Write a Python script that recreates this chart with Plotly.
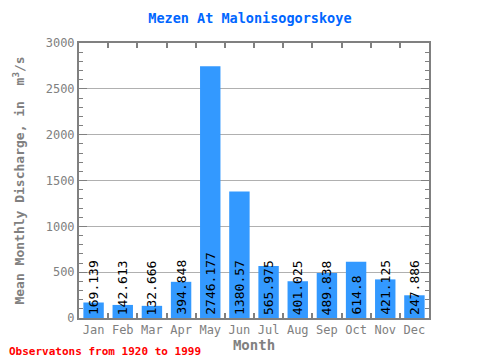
import plotly.graph_objects as go

months = ["Jan", "Feb", "Mar", "Apr", "May", "Jun", "Jul", "Aug", "Sep", "Oct", "Nov", "Dec"]
discharge = [169.139, 142.613, 132.666, 394.848, 2746.177, 1380.57, 565.975, 401.025, 489.838, 614.8, 421.125, 247.886]
labels = ["169.139", "142.613", "132.666", "394.848", "2746.177", "1380.57", "565.975", "401.025", "489.838", "614.8", "421.125", "247.886"]

font = "DejaVu Sans Mono, Liberation Mono, monospace"
gray = "#808080"

fig = go.Figure()
fig.add_trace(go.Bar(x=months, y=discharge, marker=dict(color="#3399ff", line=dict(width=0)), width=0.7))

for m, v, t in zip(months, discharge, labels):
    fig.add_annotation(x=m, y=0, text=t, textangle=-90, showarrow=False,
                       xanchor="center", yanchor="bottom", yshift=1,
                       font=dict(family=font, size=13, color="black"))

fig.add_annotation(xref="paper", yref="paper", x=-0.206, y=-0.12, xanchor="left", yanchor="middle",
                   text="<b>Observatons from 1920 to 1999</b>", showarrow=False,
                   font=dict(family=font, size=11, color="red"))

fig.update_layout(
    width=480, height=360,
    margin=dict(l=71, r=59, t=35, b=50, autoexpand=False),
    paper_bgcolor="white", plot_bgcolor="white",
    title=dict(text="<b>Mezen At Malonisogorskoye</b>", x=0.504, xref="container", xanchor="center",
               y=0.972, yanchor="middle",
               font=dict(family=font, size=13.5, color="#0066ff")),
    showlegend=False,
)
fig.update_xaxes(
    automargin=False,
    title=dict(text="<b>Month</b>", font=dict(family=font, size=14, color=gray), standoff=0),
    tickfont=dict(family=font, size=12, color=gray), tickangle=0,
    showline=True, linecolor=gray, linewidth=2, mirror="ticks",
    ticks="inside", tickson="boundaries", ticklen=5, tickcolor=gray, tickwidth=2,
    showgrid=False,
)
fig.update_yaxes(
    automargin=False,
    title=dict(text="<b>Mean Monthly Discharge, in  m<sup>3</sup>/s</b>", font=dict(family=font, size=13, color=gray), standoff=18),
    tickfont=dict(family=font, size=12, color=gray),
    range=[0, 3000], tickvals=[0, 500, 1000, 1500, 2000, 2500, 3000],
    showline=True, linecolor=gray, linewidth=2, mirror="ticks",
    ticks="inside", ticklen=8, tickcolor=gray, tickwidth=1,
    minor=dict(dtick=100, ticks="inside", ticklen=4, tickcolor=gray, showgrid=False),
    showgrid=True, gridcolor="#b0b0b0", gridwidth=1,
    zeroline=False,
)

fig.write_html("out.html")
